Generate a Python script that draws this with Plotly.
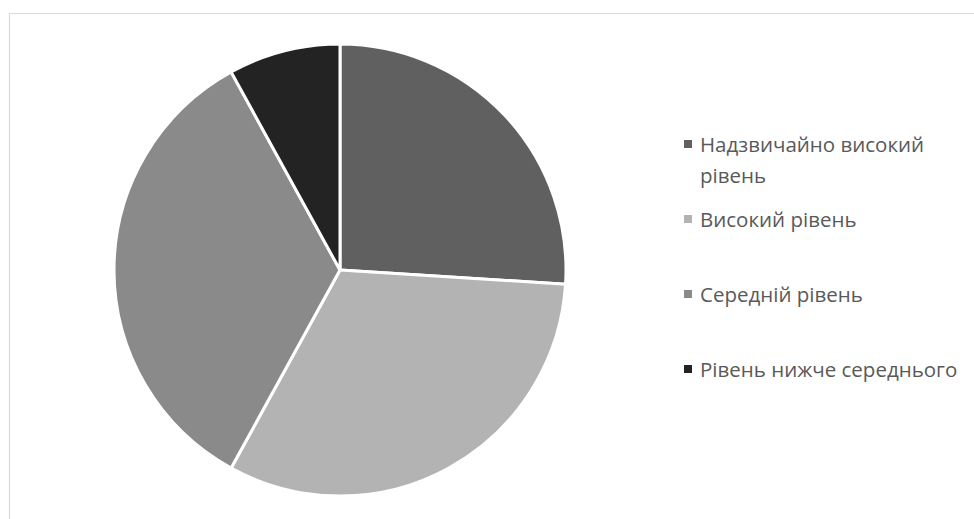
import plotly.graph_objects as go

# Share of respondents by level
levels = [
    "Надзвичайно високий рівень",
    "Високий рівень",
    "Середній рівень",
    "Рівень нижче середнього",
]
shares = [26, 32, 34, 8]
colors = ["#606060", "#b3b3b3", "#8a8a8a", "#232323"]

W, H = 974, 519
cx, cy, r = 340, 270, 226  # pie centre and radius in pixels

fig = go.Figure(
    go.Pie(
        labels=levels,
        values=shares,
        sort=False,
        direction="clockwise",
        rotation=0,
        marker=dict(colors=colors, line=dict(color="white", width=3)),
        textinfo="none",
        hoverinfo="label+value",
        showlegend=False,
        domain=dict(
            x=[(cx - r) / W, (cx + r) / W],
            y=[(H - cy - r) / H, (H - cy + r) / H],
        ),
    )
)

# Custom legend on the right
row_y = [144, 219, 294, 369]
line_gap = 31
font = dict(family="Open Sans", size=20.5, color="#595959")
shapes = []
annotations = []


def wrap(text, width=23):
    words, lines, cur = text.split(), [], ""
    for w in words:
        if cur and len(cur) + 1 + len(w) > width:
            lines.append(cur)
            cur = w
        else:
            cur = (cur + " " + w).strip()
    lines.append(cur)
    return lines


for lab, col, y in zip(levels, colors, row_y):
    shapes.append(dict(
        type="rect", xref="paper", yref="paper",
        x0=684 / W, x1=692 / W, y0=(H - y - 4) / H, y1=(H - y + 4) / H,
        fillcolor=col, line=dict(width=0),
    ))
    for i, ln in enumerate(wrap(lab)):
        annotations.append(dict(
            x=698 / W, y=(H - y - i * line_gap) / H, xref="paper", yref="paper",
            xanchor="left", yanchor="middle", text=ln, showarrow=False, font=font,
        ))

# Chart-area border
shapes.append(dict(
    type="rect", xref="paper", yref="paper",
    x0=9.5 / W, x1=1.02, y0=-0.02, y1=(H - 13.5) / H,
    line=dict(color="#d9d9d9", width=1.2), fillcolor="rgba(0,0,0,0)",
))

fig.update_layout(
    width=W, height=H,
    margin=dict(l=0, r=0, t=0, b=0),
    paper_bgcolor="white", plot_bgcolor="white",
    shapes=shapes, annotations=annotations,
)

fig.write_html("out.html")
